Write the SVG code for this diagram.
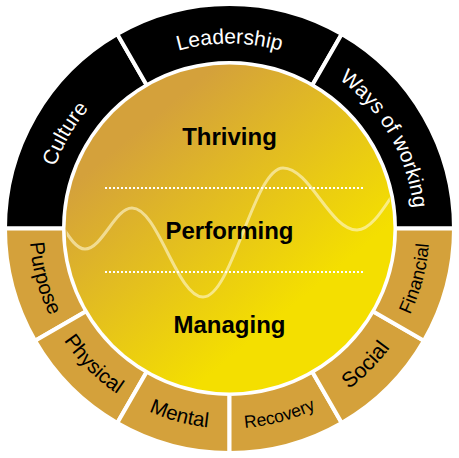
<svg xmlns="http://www.w3.org/2000/svg" width="459" height="458" viewBox="0 0 459 458">
  <defs>
    <linearGradient id="core" gradientUnits="userSpaceOnUse" x1="150" y1="120" x2="300" y2="300">
      <stop offset="0" stop-color="#D4A13B"/>
      <stop offset="1" stop-color="#F4DF00"/>
    </linearGradient>
    <clipPath id="coreClip">
      <circle cx="229.5" cy="228.5" r="163"/>
    </clipPath>
    <path id="topArc" d="M 44.5 228.5 A 185 185 0 0 1 414.5 228.5"/>
    <path id="botArc" d="M 29.5 228.5 A 200 200 0 0 0 429.5 228.5"/>
  </defs>
  <style>
    .seg { stroke: #fff; stroke-width: 4; }
    .dark { fill: #000; }
    .gold { fill: #D4A13B; }
    .ringW { font-family: "Liberation Sans", Arial, sans-serif; font-size: 21px; fill: #fff; }
    .ringB { font-family: "Liberation Sans", Arial, sans-serif; font-size: 20.5px; fill: #000; }
    .level { font-family: "Liberation Sans", Arial, sans-serif; font-size: 24px; font-weight: bold; fill: #000; text-anchor: middle; }
    .dots { stroke: #fff; stroke-width: 2; stroke-dasharray: 2 2; fill: none; }
  </style>
  <rect width="459" height="458" fill="#fff"/>

  <g id="culture">
    <path class="seg dark" d="M 5 228.5 A 224.5 224.5 0 0 1 117.25 34.08 L 146.75 85.18 A 165.5 165.5 0 0 0 64 228.5 Z"/>
    <text class="ringW"><textPath href="#topArc" startOffset="16.667%" text-anchor="middle">Culture</textPath></text>
  </g>
  <g id="leadership">
    <path class="seg dark" d="M 117.25 34.08 A 224.5 224.5 0 0 1 341.75 34.08 L 312.25 85.18 A 165.5 165.5 0 0 0 146.75 85.18 Z"/>
    <text class="ringW"><textPath href="#topArc" startOffset="50%" text-anchor="middle">Leadership</textPath></text>
  </g>
  <g id="ways-of-working">
    <path class="seg dark" d="M 341.75 34.08 A 224.5 224.5 0 0 1 454 228.5 L 395 228.5 A 165.5 165.5 0 0 0 312.25 85.18 Z"/>
    <text class="ringW"><textPath href="#topArc" startOffset="83.333%" text-anchor="middle">Ways of working</textPath></text>
  </g>

  <g id="purpose">
    <path class="seg gold" d="M 5 228.5 A 224.5 224.5 0 0 0 35.08 340.75 L 86.18 311.25 A 165.5 165.5 0 0 1 64 228.5 Z"/>
    <text class="ringB"><textPath href="#botArc" startOffset="8.333%" text-anchor="middle">Purpose</textPath></text>
  </g>
  <g id="physical">
    <path class="seg gold" d="M 35.08 340.75 A 224.5 224.5 0 0 0 117.25 422.92 L 146.75 371.82 A 165.5 165.5 0 0 1 86.18 311.25 Z"/>
    <text class="ringB"><textPath href="#botArc" startOffset="25%" text-anchor="middle">Physical</textPath></text>
  </g>
  <g id="mental">
    <path class="seg gold" d="M 117.25 422.92 A 224.5 224.5 0 0 0 229.5 453 L 229.5 394 A 165.5 165.5 0 0 1 146.75 371.82 Z"/>
    <text class="ringB"><textPath href="#botArc" startOffset="41.667%" text-anchor="middle">Mental</textPath></text>
  </g>
  <g id="recovery">
    <path class="seg gold" d="M 229.5 453 A 224.5 224.5 0 0 0 341.75 422.92 L 312.25 371.82 A 165.5 165.5 0 0 1 229.5 394 Z"/>
    <text class="ringB" style="font-size:17.5px"><textPath href="#botArc" startOffset="58.333%" text-anchor="middle">Recovery</textPath></text>
  </g>
  <g id="social">
    <path class="seg gold" d="M 341.75 422.92 A 224.5 224.5 0 0 0 423.92 340.75 L 372.82 311.25 A 165.5 165.5 0 0 1 312.25 371.82 Z"/>
    <text class="ringB" style="font-size:21.5px"><textPath href="#botArc" startOffset="75%" text-anchor="middle">Social</textPath></text>
  </g>
  <g id="financial">
    <path class="seg gold" d="M 423.92 340.75 A 224.5 224.5 0 0 0 454 228.5 L 395 228.5 A 165.5 165.5 0 0 1 372.82 311.25 Z"/>
    <text class="ringB" style="font-size:18.5px"><textPath href="#botArc" startOffset="91.667%" text-anchor="middle">Financial</textPath></text>
  </g>

  <g id="core-circle">
    <circle cx="229.5" cy="228.5" r="164" fill="url(#core)"/>
    <path clip-path="url(#coreClip)" fill="none" stroke="#FFF8D6" stroke-opacity="0.6" stroke-width="3" d="M 40 205 C 56.4 205 68.6 249 85 249 C 102.1 249 114.9 208 132 208 C 157.9 208 177.1 297 203 297 C 232.1 297 253.9 168 283 168 C 310 168 330 230 357 230 C 381.8 230 400.2 165 425 165"/>
  </g>

  <g id="connectors">
    <line class="dots" x1="105" y1="188" x2="363" y2="188"/>
    <line class="dots" x1="105" y1="272" x2="363" y2="272"/>
  </g>

  <g id="thriving"><text class="level" x="229.5" y="145">Thriving</text></g>
  <g id="performing"><text class="level" x="229.5" y="239">Performing</text></g>
  <g id="managing"><text class="level" x="229.5" y="333">Managing</text></g>
</svg>
